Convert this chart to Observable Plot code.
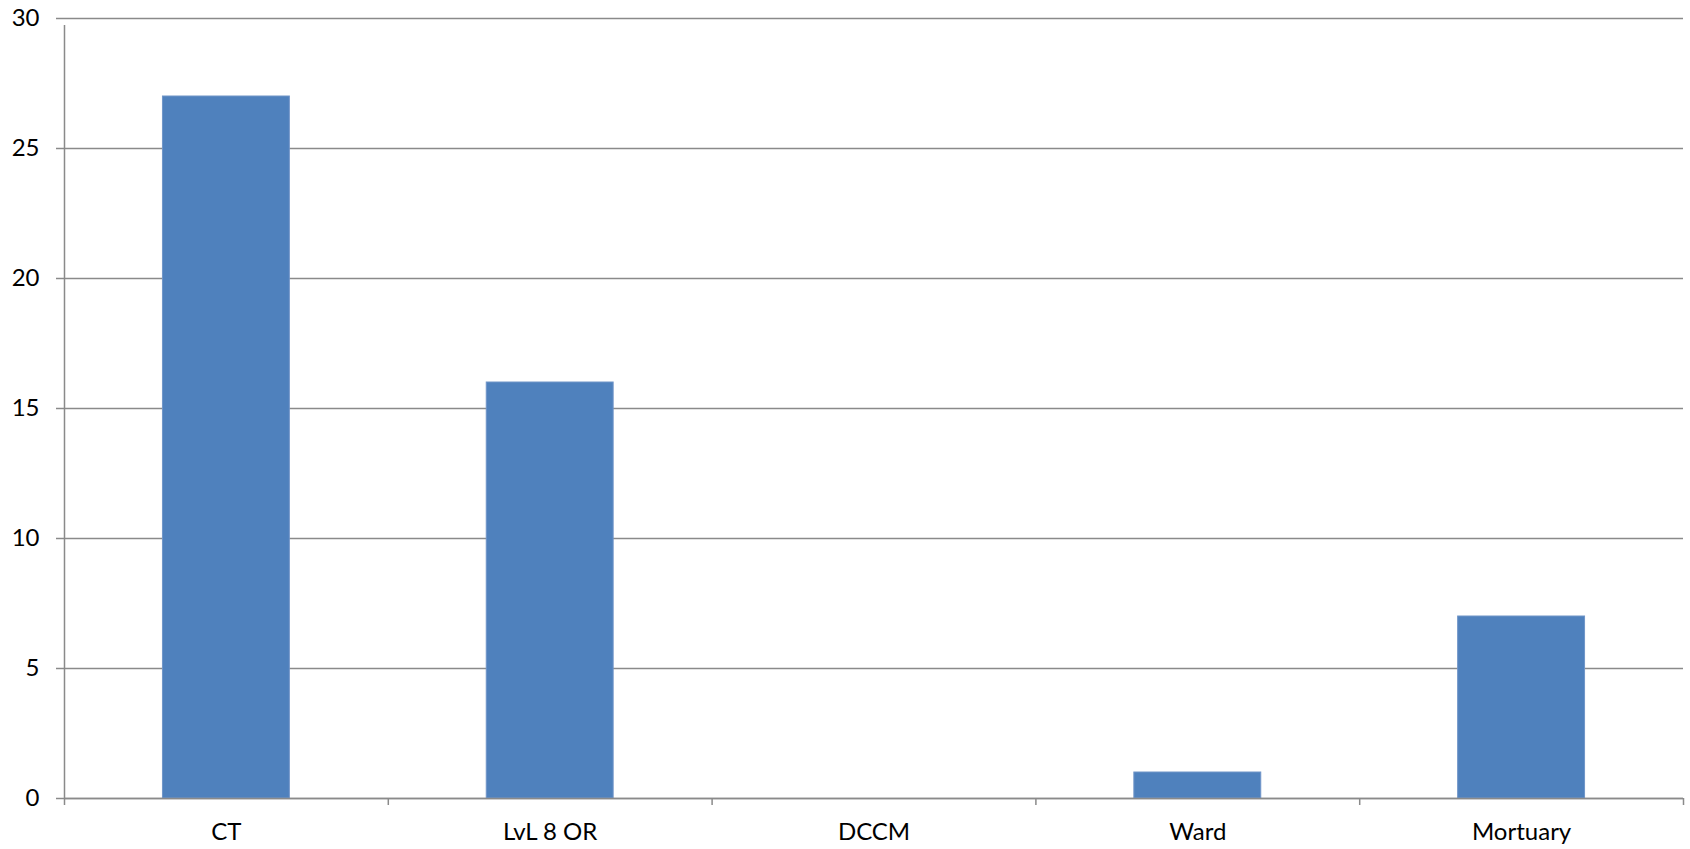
<!DOCTYPE html>
<html>
<head>
<meta charset="utf-8">
<script src="https://cdn.jsdelivr.net/npm/d3@7"></script>
<script src="https://cdn.jsdelivr.net/npm/@observablehq/plot@0.6"></script>
<style>
  html, body { margin: 0; padding: 0; background: #fff; }
  #chart svg { display: block; }
</style>
</head>
<body>
<div id="chart"></div>
<script>
// Counts by location
const categories = ["CT", "LvL 8 OR", "DCCM", "Ward", "Mortuary"];
const counts = [27, 16, 0, 1, 7];
const yTicks = [0, 5, 10, 15, 20, 25, 30];

const data = categories.map((c, i) => ({ location: c, count: counts[i] }));

const width = 1690, height = 849;
const marginLeft = 64, marginRight = 7, marginTop = 18, marginBottom = 51;
const step = (width - marginLeft - marginRight) / categories.length;
const grid = "#8a8a8a";
const last = categories[categories.length - 1];

const chart = Plot.plot({
  width, height, marginLeft, marginRight, marginTop, marginBottom,
  style: { fontFamily: "Lato, 'Open Sans', sans-serif", fontSize: "24px", color: "#000", background: "#fff" },
  x: { domain: categories, paddingInner: 0.605, paddingOuter: 0.3025, round: false, label: null },
  y: { domain: [0, 30], label: null },
  marks: [
    Plot.gridY(yTicks, { stroke: grid, strokeOpacity: 1, strokeWidth: 1.5 }),
    Plot.axisY(yTicks, { tickSize: 8, tickPadding: 17, stroke: grid, strokeWidth: 1.5, fontSize: 24, fill: "#000" }),
    Plot.barY(data, { x: "location", y: "count", fill: "#4f81bd", stroke: "#7095c8", strokeWidth: 1, insetLeft: 0.5, insetRight: 0.5 }),
    Plot.ruleY([0], { stroke: grid, strokeWidth: 1.5 }),
    // vertical axis line at the left edge of the first band
    Plot.ruleX([categories[0]], { x: d => d, y1: 0, y2: 30, dx: -step / 2, stroke: grid, strokeWidth: 1.5, insetBottom: -7 }),
    // category divider ticks below the baseline
    Plot.ruleX(categories, { x: d => d, y1: 0, y2: 0, dx: -step / 2, stroke: grid, strokeWidth: 1.5, insetBottom: -7 }),
    Plot.ruleX([last], { x: d => d, y1: 0, y2: 0, dx: step / 2, stroke: grid, strokeWidth: 1.5, insetBottom: -7 }),
    Plot.axisX({ tickSize: 0, tickPadding: 24, fontSize: 24, fill: "#000" })
  ]
});

document.getElementById("chart").append(chart);
</script>
</body>
</html>
